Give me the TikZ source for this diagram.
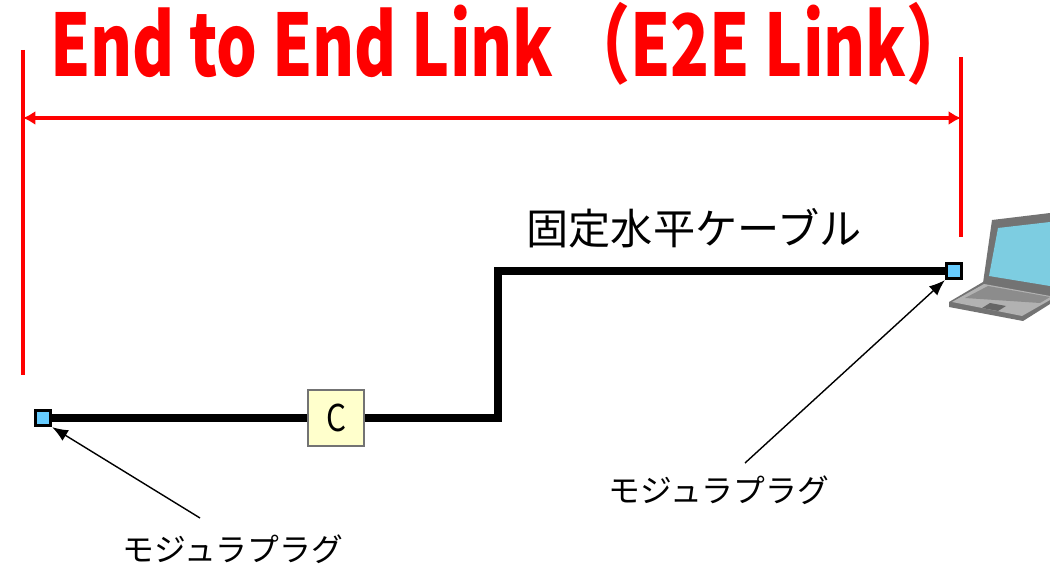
\documentclass[tikz,border=0pt]{standalone}
\usepackage{fontspec}
\usepackage{graphicx}
\setmainfont{Noto Sans CJK JP}
\usetikzlibrary{arrows.meta}
\definecolor{linkred}{RGB}{255,0,0}
\definecolor{plugblue}{RGB}{102,204,255}
\definecolor{boxyellow}{RGB}{255,255,204}
\definecolor{screenblue}{RGB}{125,205,225}
\tikzstyle{cable}=[-, line width=4.5pt, line join=miter]
\tikzstyle{plug}=[rectangle, draw=black, line width=1.6pt, fill=plugblue, minimum size=0.31cm, inner sep=0pt]
\tikzstyle{conn}=[rectangle, draw=black!55, line width=1pt, fill=boxyellow, minimum size=1.12cm, inner sep=0pt]
\tikzstyle{bound}=[-, line width=2.3pt, draw=linkred]
\tikzstyle{span}=[{Latex[length=7pt,width=8pt]}-{Latex[length=7pt,width=8pt]}, line width=2.3pt, draw=linkred]
\tikzstyle{pointer}=[-{Latex[length=9pt,width=7pt]}, line width=0.8pt]
\tikzstyle{lbl}=[inner sep=0pt, font=\fontsize{18.1pt}{20pt}\selectfont]

\begin{document}
\begin{tikzpicture}[x=0.02cm,y=-0.02cm]
	\useasboundingbox (0,0) rectangle (1050,567);

	%The title
	\draw (50,77) node[anchor=base west, inner sep=0pt, text=linkred] (title)
		{\scalebox{0.76}[1.02]{\fontsize{48pt}{50pt}\selectfont\bfseries End to End Link\hspace{0.2em}（E2E Link）}};

	%The ends of the link
	\coordinate (lt) at (23,50);
	\coordinate (lb) at (23,375);
	\coordinate (rt) at (961,57);
	\coordinate (rb) at (961,237);
	\coordinate (la) at (23,118);
	\coordinate (ra) at (961,118);
	\draw[bound] (lt) -- (lb);
	\draw[bound] (rt) -- (rb);
	\draw[span] (la) -- (ra);

	%The laptop
	\fill[black!55] (983,283) -- (992,220) -- (1050,213) -- (1050,296) -- cycle;
	\fill[screenblue] (989,276) -- (998,228) -- (1050,222) -- (1050,286) -- cycle;
	\fill[black!55] (949,302) -- (983,282) -- (1050,294) -- (1050,304) -- (1023,321) -- (949,307) -- cycle;
	\fill[black!30] (952,302) -- (984,284) -- (1050,296) -- (1050,300) -- (1022,316) -- cycle;
	\fill[black!45] (965,298) -- (988,286) -- (1050,297) -- (1040,303) -- cycle;
	\fill[black!60] (982,308) -- (990,303) -- (1006,306) -- (998,311) -- cycle;

	%The plugs and the connector
	\draw (43,418) node[plug] (plugL) {};
	\draw (954,271) node[plug] (plugR) {};
	\draw (336,418) node[conn] (conn) {\scalebox{0.85}[1]{\fontsize{21pt}{23pt}\selectfont C}};
	\coordinate (bend) at (498,418);

	%The cable
	\draw[cable] (plugL.east) -- (conn.west);
	\draw[cable] (conn.east) -- (bend) |- (plugR.west);
	\draw (694,228) node[inner sep=0pt, font=\fontsize{24pt}{26pt}\selectfont] (cablelabel) {固定水平ケーブル};

	%The plug labels
	\draw (233,549) node[lbl] (labelL) {モジュラプラグ};
	\draw (719,490) node[lbl] (labelR) {モジュラプラグ};
	\coordinate (tailL) at (200,518);
	\coordinate (tailR) at (745,463);
	\draw[pointer] (tailL) -- (plugL.south east);
	\draw[pointer] (tailR) -- (plugR.south west);
\end{tikzpicture}
\end{document}
